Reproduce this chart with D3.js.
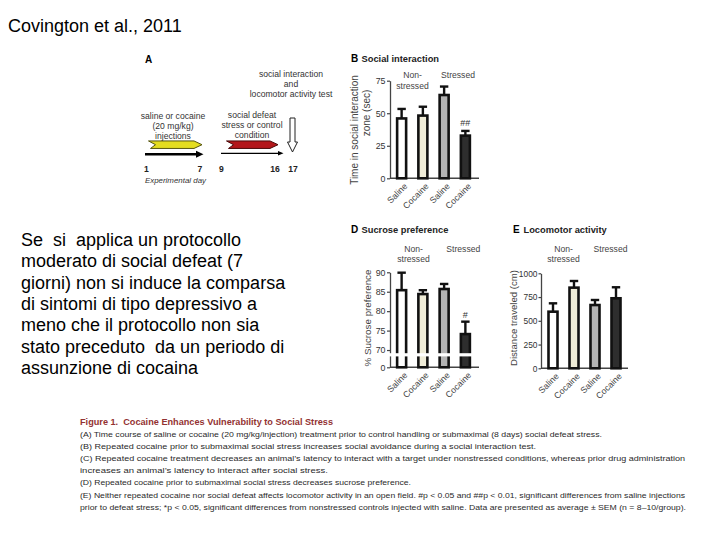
<!DOCTYPE html>
<html><head><meta charset="utf-8">
<script src="https://cdn.jsdelivr.net/npm/d3@7"></script>
<style>
body{margin:0;background:#fff}
svg{display:block}
text{font-family:"Liberation Sans",Arial,sans-serif}
</style>
</head><body>
<svg id="c" width="720" height="540"></svg>
<script>
// ---------- data ----------
const treatments = ["Saline", "Cocaine", "Saline", "Cocaine"];
const groupLabels = [["Non-", "stressed"], ["Stressed"]];
const barFills = ["#ffffff", "#efecd7", "#b3b3b3", "#2e2e2e"];

const socialMean = [46, 48.2, 64, 32.8];
const socialSem = [7.3, 6.8, 6.5, 3.6];
const socialTicks = [0, 25, 50, 75];

const sucroseMean = [85.4, 84.4, 85.7, 74.1];
const sucroseSem = [4.5, 1.0, 1.3, 3.2];
const sucroseTicks = [0, 70, 75, 80, 85, 90];

const locoMean = [596, 849, 666, 737];
const locoSem = [88, 70, 53, 116];
const locoTicks = [0, 250, 500, 750, 1000];

const days = [1, 7, 9, 16, 17];

const titleText = "Covington et al., 2011";
const paragraph = [
  "Se  si  applica un protocollo",
  "moderato di social defeat (7",
  "giorni) non si induce la comparsa",
  "di sintomi di tipo depressivo a",
  "meno che il protocollo non sia",
  "stato preceduto  da un periodo di",
  "assunzione di cocaina"
];
const captionTitle = "Figure 1.  Cocaine Enhances Vulnerability to Social Stress";
const captionLines = [
  "(A) Time course of saline or cocaine (20 mg/kg/injection) treatment prior to control handling or submaximal (8 days) social defeat stress.",
  "(B) Repeated cocaine prior to submaximal social stress increases social avoidance during a social interaction test.",
  "(C) Repeated cocaine treatment decreases an animal\u2019s latency to interact with a target under nonstressed conditions, whereas prior drug administration",
  "increases an animal\u2019s latency to interact after social stress.",
  "(D) Repeated cocaine prior to submaximal social stress decreases sucrose preference.",
  "(E) Neither repeated cocaine nor social defeat affects locomotor activity in an open field. #p < 0.05 and ##p < 0.01, significant differences from saline injections",
  "prior to defeat stress; *p < 0.05, significant differences from nonstressed controls injected with saline. Data are presented as average \u00b1 SEM (n = 8\u201310/group)."
];
// ---------- layout ----------
const svg = d3.select("#c");
svg.append("rect").attr("width", 720).attr("height", 540).attr("fill", "#fff");

svg.append("text").attr("x", 8).attr("y", 32).attr("font-size", 18).attr("fill", "#000").text(titleText);

svg.append("g").selectAll("text").data(paragraph).join("text")
  .attr("x", 21).attr("y", (d, i) => 245.7 + i * 21.4)
  .attr("font-size", 18).attr("fill", "#000")
  .style("white-space", "pre").text(d => d);

// caption
const capEnds = [602, 536, 685, 328, 411, 685, 686];
svg.append("text").attr("x", 80).attr("y", 424.5).attr("font-size", 8.4)
  .attr("font-weight", "bold").attr("fill", "#933232")
  .attr("textLength", 253).attr("lengthAdjust", "spacingAndGlyphs")
  .style("white-space", "pre").text(captionTitle);
svg.append("g").selectAll("text").data(captionLines).join("text")
  .attr("x", 80).attr("y", (d, i) => 437 + i * 12.1)
  .attr("font-size", 7.9).attr("fill", "#2a2a2a")
  .attr("textLength", (d, i) => capEnds[i] - 80).attr("lengthAdjust", "spacingAndGlyphs")
  .text(d => d);

// ---------- panel A schematic ----------
const A = svg.append("g");
const dayX = d3.scaleLinear().domain(days).range([146.5, 200, 221.5, 275, 293]);
A.append("text").attr("x", 145).attr("y", 63).attr("font-size", 10).attr("font-weight", "bold").text("A");
const diagText = (lines, cx, y0) => {
  A.append("g").selectAll("text").data(lines).join("text")
    .attr("x", cx).attr("y", (d, i) => y0 + i * 10).attr("text-anchor", "middle")
    .attr("font-size", 8.6).attr("fill", "#333").text(d => d);
};
diagText(["social interaction", "and", "locomotor activity test"], 291, 77);
diagText(["saline or cocaine", "(20 mg/kg)", "injections"], 173, 119);
diagText(["social defeat", "stress or control", "condition"], 252, 118);

function chevron(x0, x1, yc, h) {
  return `M${x0},${yc - h / 2} L${x1 - 8},${yc - h / 2} L${x1},${yc} L${x1 - 8},${yc + h / 2} L${x0 + 2},${yc + h / 2} L${x0 + 7},${yc} Z`;
}
A.append("path").attr("d", chevron(dayX(1) + 2, dayX(7) + 2, 144.7, 7.5)).attr("fill", "#e4dd1f").attr("stroke", "#55550f").attr("stroke-width", 1);
A.append("path").attr("d", chevron(dayX(9) + 5, dayX(16) + 3, 144.7, 7.5)).attr("fill", "#b3161a").attr("stroke", "#4a0a0a").attr("stroke-width", 1);
// thick arrow
A.append("line").attr("x1", dayX(1) - 1.5).attr("x2", dayX(7) - 2).attr("y1", 154.3).attr("y2", 154.3).attr("stroke", "#000").attr("stroke-width", 2.6);
A.append("path").attr("d", `M${dayX(7) - 4},150.8 L${dayX(7) + 3.5},154.3 L${dayX(7) - 4},157.8 Z`).attr("fill", "#000");
// thin arrow
A.append("line").attr("x1", dayX(9) - 0.5).attr("x2", dayX(16) + 4).attr("y1", 153.3).attr("y2", 153.3).attr("stroke", "#000").attr("stroke-width", 1.2);
A.append("path").attr("d", `M${dayX(16) + 3},151 L${dayX(16) + 8.5},153.3 L${dayX(16) + 3},155.6 Z`).attr("fill", "#000");
// open down arrow
const ox = dayX(17) - 0.5;
A.append("path").attr("d", `M${ox - 2.5},118 H${ox + 2.5} V142 H${ox + 5} L${ox},152 L${ox - 5},142 H${ox - 2.5} Z`)
  .attr("fill", "#fff").attr("stroke", "#222").attr("stroke-width", 1);
A.append("g").selectAll("text").data(days).join("text")
  .attr("x", d => dayX(d)).attr("y", 171.5).attr("text-anchor", "middle")
  .attr("font-size", 8.6).attr("font-weight", "bold").attr("fill", "#222").text(d => d);
A.append("text").attr("x", 145).attr("y", 182.5).attr("font-size", 7.9).attr("font-style", "italic").attr("fill", "#333").text("Experimental day");

// ---------- bar panels ----------
function panel(o) {
  const g = svg.append("g");
  const x = d3.scaleBand().domain(d3.range(treatments.length)).range(o.xr);
  const y = o.y;
  const y0 = y(0);
  const cx = i => x(i) + x.bandwidth() / 2;
  const bw = 9;
  // header
  g.append("text").attr("x", o.hx).attr("y", o.hy).attr("font-size", 10).attr("font-weight", "bold").text(o.letter);
  g.append("text").attr("x", o.hx + 10.5).attr("y", o.hy).attr("font-size", 9.3).attr("font-weight", "bold").attr("fill", "#222").text(o.title);
  // group labels
  o.gx.forEach((gx, gi) => {
    g.append("g").selectAll("text").data(groupLabels[gi]).join("text")
      .attr("x", gx).attr("y", (d, i) => o.gy + i * 10.8).attr("text-anchor", "middle")
      .attr("font-size", 8.6).attr("fill", "#444").text(d => d);
  });
  // y axis
  const ax = g.append("g").attr("transform", `translate(${o.axisX},0)`)
    .call(d3.axisLeft(y).tickValues(o.ticks).tickFormat(d3.format("d"))
      .tickSize(o.ts).tickPadding(o.tp).tickSizeOuter(0));
  ax.select(".domain").attr("stroke", "#444").attr("stroke-width", 1.3);
  ax.selectAll(".tick line").attr("stroke", "#444").attr("stroke-width", 1.2);
  ax.selectAll(".tick text").attr("font-size", o.tfs).attr("fill", "#333").attr("font-family", "Liberation Sans, Arial, sans-serif");
  // x baseline
  g.append("line").attr("x1", o.axisX).attr("x2", o.xEnd).attr("y1", y0).attr("y2", y0).attr("stroke", "#444").attr("stroke-width", 1.4);
  // y label
  g.append("g").selectAll("text").data(o.ylab).join("text")
    .attr("transform", (d, i) => `translate(${o.ylx[i]},${o.ylc[i]}) rotate(-90)`)
    .attr("text-anchor", "middle").attr("font-size", o.yfs).attr("fill", "#444").text(d => d);
  // error bars
  const eb = g.append("g").attr("stroke", "#111").attr("stroke-width", 2.4);
  o.mean.forEach((m, i) => {
    eb.append("line").attr("x1", cx(i)).attr("x2", cx(i)).attr("y1", y(m)).attr("y2", y(m + o.sem[i]));
    eb.append("line").attr("x1", cx(i) - 4.2).attr("x2", cx(i) + 4.2).attr("y1", y(m + o.sem[i])).attr("y2", y(m + o.sem[i]));
  });
  // bars
  g.append("g").selectAll("rect").data(o.mean).join("rect")
    .attr("x", (d, i) => cx(i) - bw / 2).attr("width", bw)
    .attr("y", d => y(d)).attr("height", d => y0 - y(d))
    .attr("fill", (d, i) => barFills[i]).attr("stroke", "#111").attr("stroke-width", 2.6);
  // significance marks
  if (o.mark) {
    g.append("text").attr("x", cx(o.mark.i)).attr("y", y(o.mean[o.mark.i] + o.sem[o.mark.i]) - o.mark.off)
      .attr("text-anchor", "middle").attr("font-size", 9).attr("fill", "#333").text(o.mark.t);
  }
  // broken axis
  if (o.brk) {
    g.append("rect").attr("x", o.axisX - 1.5).attr("width", o.xEnd - o.axisX + 3)
      .attr("y", o.brk[0]).attr("height", o.brk[1] - o.brk[0]).attr("fill", "#fff");
  }
  // x labels
  g.append("g").selectAll("text").data(treatments).join("text")
    .attr("transform", (d, i) => `translate(${cx(i) + 3},${y0 + 5}) rotate(-45)`)
    .attr("text-anchor", "end").attr("dy", "0.55em")
    .attr("font-size", 8.8).attr("fill", "#444").text(d => d);
}

panel({
  letter: "B", title: "Social interaction", hx: 351, hy: 61.5,
  xr: [391, 476], axisX: 390, xEnd: 479, ts: 3, tp: 1.5, tfs: 8.8,
  y: d3.scaleLinear().domain([0, 75]).range([178.3, 80.7]),
  ticks: socialTicks, mean: socialMean, sem: socialSem,
  gx: [412.5, 458], gy: 78,
  ylab: ["Time in social interaction", "zone (sec)"], ylx: [357.5, 369.5], ylc: [130, 113], yfs: 10,
  mark: { i: 3, t: "##", off: 5 }
});

panel({
  letter: "D", title: "Sucrose preference", hx: 351, hy: 233,
  xr: [391, 476], axisX: 390, xEnd: 479, ts: 3, tp: 1.5, tfs: 8.8,
  y: d3.scaleLinear().domain([0, 68, 90]).range([367.3, 357.8, 272.3]),
  ticks: sucroseTicks, mean: sucroseMean, sem: sucroseSem,
  gx: [413.5, 463.3], gy: 251.5,
  ylab: ["% Sucrose preference"], ylx: [371], ylc: [318], yfs: 9.8,
  mark: { i: 3, t: "#", off: 4 },
  brk: [353.2, 356.4]
});

panel({
  letter: "E", title: "Locomotor activity", hx: 513, hy: 233,
  xr: [542.5, 626.5], axisX: 541, xEnd: 628, ts: 2.5, tp: 1, tfs: 8.4,
  y: d3.scaleLinear().domain([0, 1000]).range([368.3, 273.3]),
  ticks: locoTicks, mean: locoMean, sem: locoSem,
  gx: [563.5, 610.5], gy: 251.5,
  ylab: ["Distance traveled (cm)"], ylx: [517], ylc: [318], yfs: 9.6
});
</script>
</body></html>
